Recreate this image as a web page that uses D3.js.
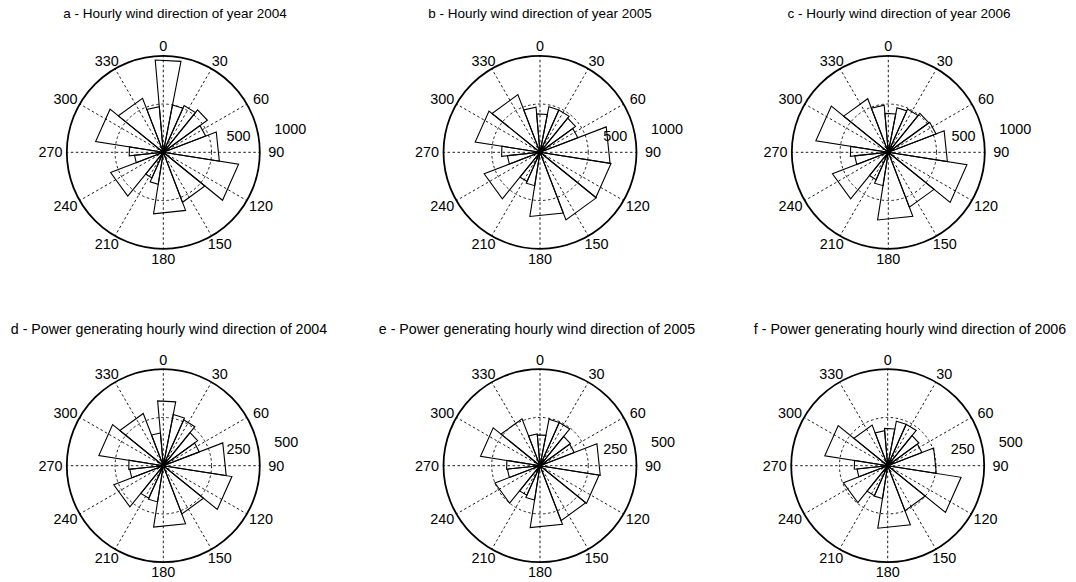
<!DOCTYPE html>
<html><head><meta charset="utf-8">
<script src="https://cdn.jsdelivr.net/npm/d3@7"></script>
<style>
body{margin:0;background:#fff}
text{font-family:"Liberation Sans",Arial,Helvetica,sans-serif;fill:#000}
</style>
</head><body>
<svg id="chart" width="1076" height="582"></svg>
<script>
// ---- data ----
// bin edges (compass degrees, clockwise from north); bin i spans binEdges[i]..binEdges[i+1]
const binEdges = [-21, -5, 11, 24, 39, 54, 69, 99, 129, 159, 189, 204, 219, 249, 264, 279, 309, 339];
const angleTicks = [0, 30, 60, 90, 120, 150, 180, 210, 240, 270, 300, 330];
const panelTitles = [
  "a - Hourly wind direction of year 2004",
  "b - Hourly wind direction of year 2005",
  "c - Hourly wind direction of year 2006",
  "d - Power generating hourly wind direction of 2004",
  "e - Power generating hourly wind direction of 2005",
  "f - Power generating hourly wind direction of 2006"
];
const radialTicksHourly = [500, 1000];
const radialTicksPower = [250, 500];
const hourly2004 = [475, 960, 500, 530, 565, 470, 588, 790, 555, 645, 335, 290, 585, 300, 355, 710, 600];
const hourly2005 = [470, 400, 480, 480, 455, 420, 735, 745, 750, 673, 350, 330, 620, 340, 400, 680, 640];
const hourly2006 = [490, 405, 470, 490, 520, 530, 620, 825, 610, 710, 350, 310, 620, 350, 395, 760, 595];
const power2004 = [170, 337, 270, 260, 220, 200, 330, 360, 268, 322, 190, 185, 275, 175, 180, 338, 290];
const power2005 = [165, 160, 245, 245, 195, 190, 316, 310, 305, 325, 180, 168, 250, 170, 174, 312, 260];
const power2006 = [182, 194, 235, 235, 200, 190, 255, 385, 250, 328, 172, 170, 246, 160, 174, 330, 225];

// ---- layout ----
const R = 96.5;
const panels = [
  {title: panelTitles[0], values: hourly2004, ticks: radialTicksHourly, cx: 163.3, cy: 152.3, tx: 175, ty: 18, fs: 13.5},
  {title: panelTitles[1], values: hourly2005, ticks: radialTicksHourly, cx: 540, cy: 152.3, tx: 540, ty: 18, fs: 13.5},
  {title: panelTitles[2], values: hourly2006, ticks: radialTicksHourly, cx: 888.3, cy: 152.3, tx: 899, ty: 18, fs: 13.5},
  {title: panelTitles[3], values: power2004, ticks: radialTicksPower, cx: 163.3, cy: 465.7, tx: 169, ty: 334, fs: 14.2},
  {title: panelTitles[4], values: power2005, ticks: radialTicksPower, cx: 540, cy: 465.7, tx: 537, ty: 334, fs: 14.2},
  {title: panelTitles[5], values: power2006, ticks: radialTicksPower, cx: 887.7, cy: 465.7, tx: 910, ty: 334, fs: 14.2}
];

const svg = d3.select("#chart");
const deg = d3.scaleLinear().domain([0, 360]).range([0, 2 * Math.PI]);

panels.forEach(p => {
  const rMax = d3.max(p.ticks);
  const r = d3.scaleLinear().domain([0, rMax]).range([0, R]);
  const g = svg.append("g").attr("transform", `translate(${p.cx},${p.cy})`);

  svg.append("text").attr("x", p.tx).attr("y", p.ty)
    .attr("text-anchor", "middle").style("font-size", p.fs + "px").text(p.title);

  // dotted spokes
  g.selectAll("line.spoke").data(angleTicks).join("line")
    .attr("x1", 0).attr("y1", 0)
    .attr("x2", d => R * Math.sin(deg(d)))
    .attr("y2", d => -R * Math.cos(deg(d)))
    .attr("stroke", "#000").attr("stroke-width", 0.9)
    .attr("stroke-dasharray", "2.5,2.5");

  // dotted inner rings
  g.selectAll("circle.ring").data(p.ticks.filter(t => t < rMax)).join("circle")
    .attr("r", d => r(d)).attr("fill", "none")
    .attr("stroke", "#000").attr("stroke-width", 0.9)
    .attr("stroke-dasharray", "2.5,2.5");

  // outer circle
  g.append("circle").attr("r", r(rMax)).attr("fill", "none")
    .attr("stroke", "#000").attr("stroke-width", 1.8);

  // angle labels
  g.selectAll("text.ang").data(angleTicks).join("text")
    .attr("x", d => 1.17 * R * Math.sin(deg(d)))
    .attr("y", d => -1.1 * R * Math.cos(deg(d)))
    .attr("dy", "0.36em")
    .attr("text-anchor", "middle").style("font-size", "14.4px")
    .text(d => d);

  // radial tick labels
  g.selectAll("text.rad").data(p.ticks).join("text")
    .attr("x", d => (r(d) + R / 40) * Math.cos(deg(8)) + 13)
    .attr("y", d => -(r(d) + R / 40) * Math.sin(deg(8)) - 4.5)
    .attr("text-anchor", "start").style("font-size", "14.4px")
    .text(d => d);

  // rose bars
  const line = d3.lineRadial()
    .angle(d => deg(d[0]))
    .radius(d => r(d[1]));
  g.selectAll("path.bar").data(p.values).join("path")
    .attr("d", (v, i) => line([[binEdges[i], 0], [binEdges[i], v], [binEdges[i + 1], v], [binEdges[i + 1], 0]]) + "Z")
    .attr("fill", "none").attr("stroke", "#000").attr("stroke-width", 1.1)
    .attr("stroke-linejoin", "miter");
});
</script>
</body></html>
